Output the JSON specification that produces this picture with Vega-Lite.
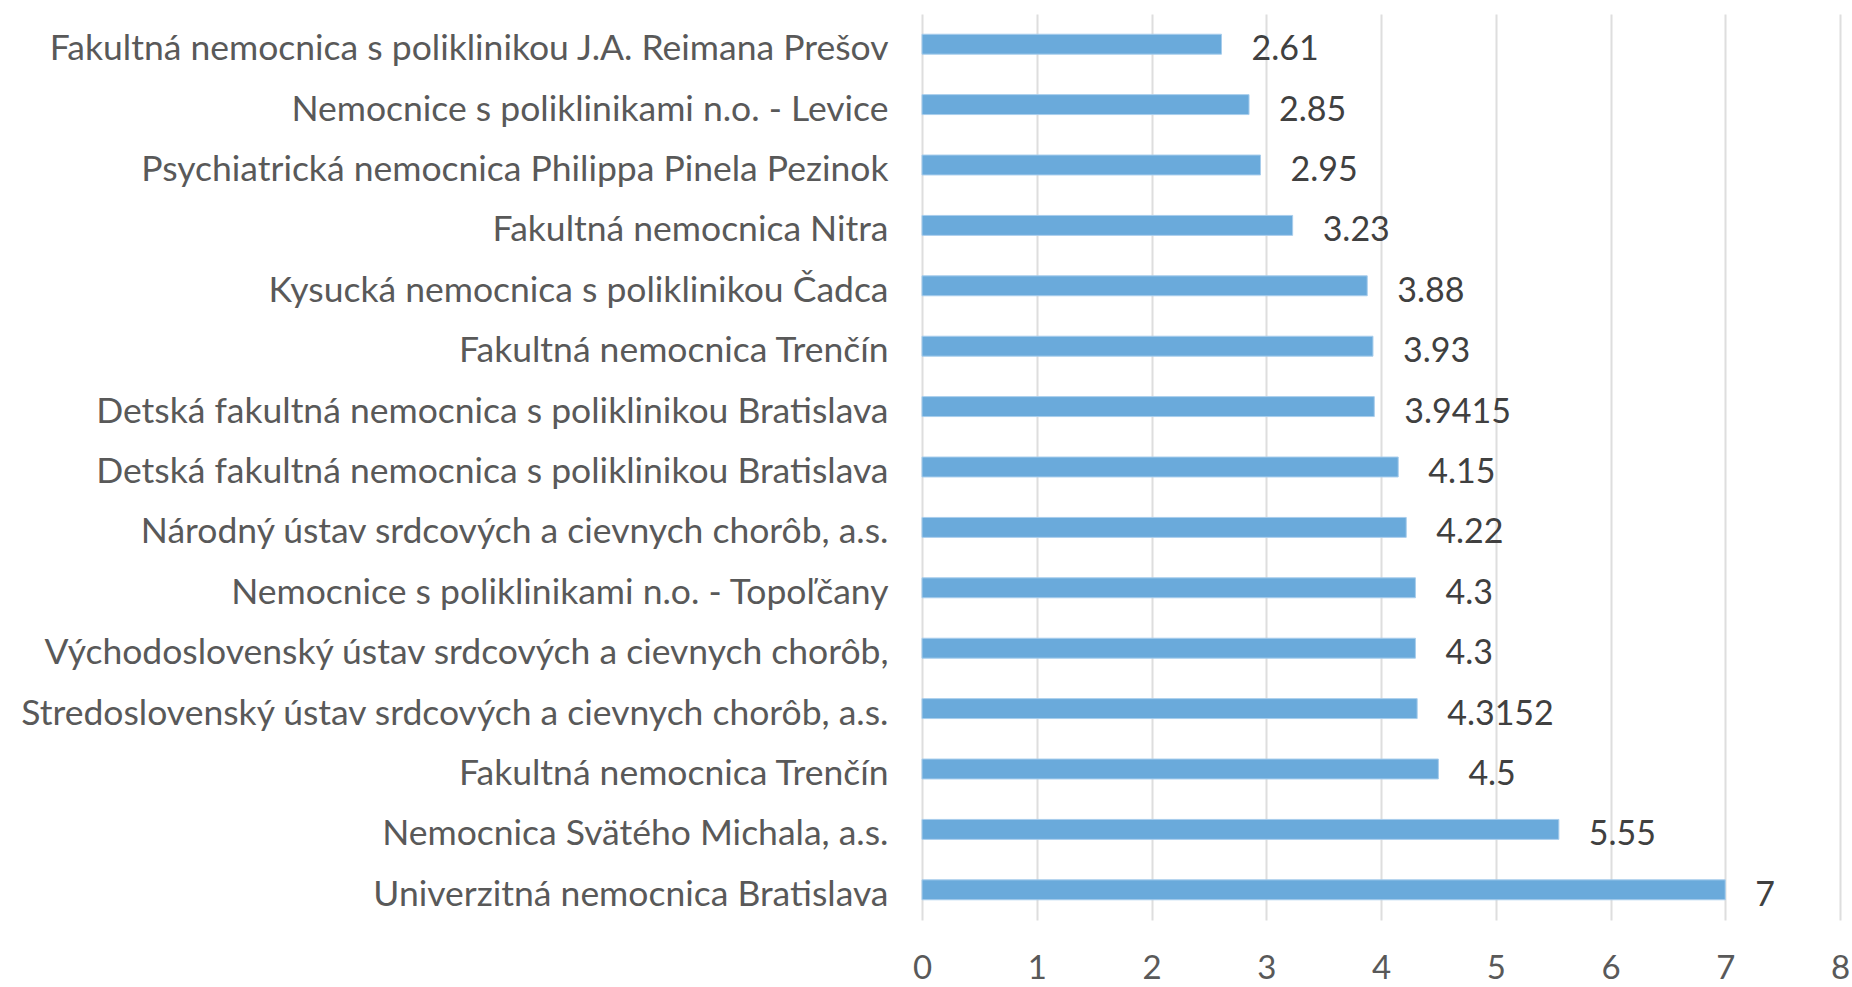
{
  "$schema": "https://vega.github.io/schema/vega-lite/v6.json",
  "width": 918,
  "height": 906,
  "autosize": {"type": "none"},
  "padding": {"left": 922, "top": 14, "right": 12, "bottom": 67},
  "background": "white",
  "config": {"view": {"stroke": null}},
  "data": {
    "values": [
      {"key": "Fakultná nemocnica s poliklinikou J.A. Reimana Prešov|1", "value": 2.61},
      {"key": "Nemocnice s poliklinikami n.o. - Levice|2", "value": 2.85},
      {"key": "Psychiatrická nemocnica Philippa Pinela Pezinok|3", "value": 2.95},
      {"key": "Fakultná nemocnica Nitra|4", "value": 3.23},
      {"key": "Kysucká nemocnica s poliklinikou Čadca|5", "value": 3.88},
      {"key": "Fakultná nemocnica Trenčín|6", "value": 3.93},
      {"key": "Detská fakultná nemocnica s poliklinikou Bratislava|7", "value": 3.9415},
      {"key": "Detská fakultná nemocnica s poliklinikou Bratislava|8", "value": 4.15},
      {"key": "Národný ústav srdcových a cievnych chorôb, a.s.|9", "value": 4.22},
      {"key": "Nemocnice s poliklinikami n.o. - Topoľčany|10", "value": 4.3},
      {"key": "Východoslovenský ústav srdcových a cievnych chorôb,|11", "value": 4.3},
      {"key": "Stredoslovenský ústav srdcových a cievnych chorôb, a.s.|12", "value": 4.3152},
      {"key": "Fakultná nemocnica Trenčín|13", "value": 4.5},
      {"key": "Nemocnica Svätého Michala, a.s.|14", "value": 5.55},
      {"key": "Univerzitná nemocnica Bratislava|15", "value": 7}
    ]
  },
  "encoding": {
    "y": {
      "field": "key",
      "type": "nominal",
      "sort": null,
      "scale": {"paddingInner": 0.67, "paddingOuter": 0.335},
      "axis": {
        "title": null,
        "domain": false,
        "ticks": false,
        "labelExpr": "split(datum.label, '|')[0]",
        "labelFont": "Lato",
        "labelFontSize": 35.5,
        "labelColor": "#595959",
        "labelPadding": 34,
        "labelOffset": 5,
        "labelLimit": 1000
      }
    },
    "x": {
      "field": "value",
      "type": "quantitative",
      "scale": {"domain": [0, 8], "nice": false},
      "axis": {
        "title": null,
        "domain": false,
        "ticks": false,
        "values": [0, 1, 2, 3, 4, 5, 6, 7, 8],
        "grid": true,
        "gridColor": "#dedede",
        "gridWidth": 2,
        "labelFont": "Lato",
        "labelFontSize": 33,
        "labelColor": "#595959",
        "labelPadding": 32,
        "labelFlush": false,
        "labelOverlap": false
      }
    }
  },
  "layer": [
    {
      "mark": {"type": "bar", "color": "#6aaadb", "stroke": "#a8cdec", "strokeWidth": 1}
    },
    {
      "mark": {"type": "text", "align": "left", "baseline": "middle", "dx": 30, "dy": 6, "font": "Lato", "fontSize": 34, "color": "#404040"},
      "encoding": {"text": {"field": "value", "type": "nominal"}}
    }
  ]
}
